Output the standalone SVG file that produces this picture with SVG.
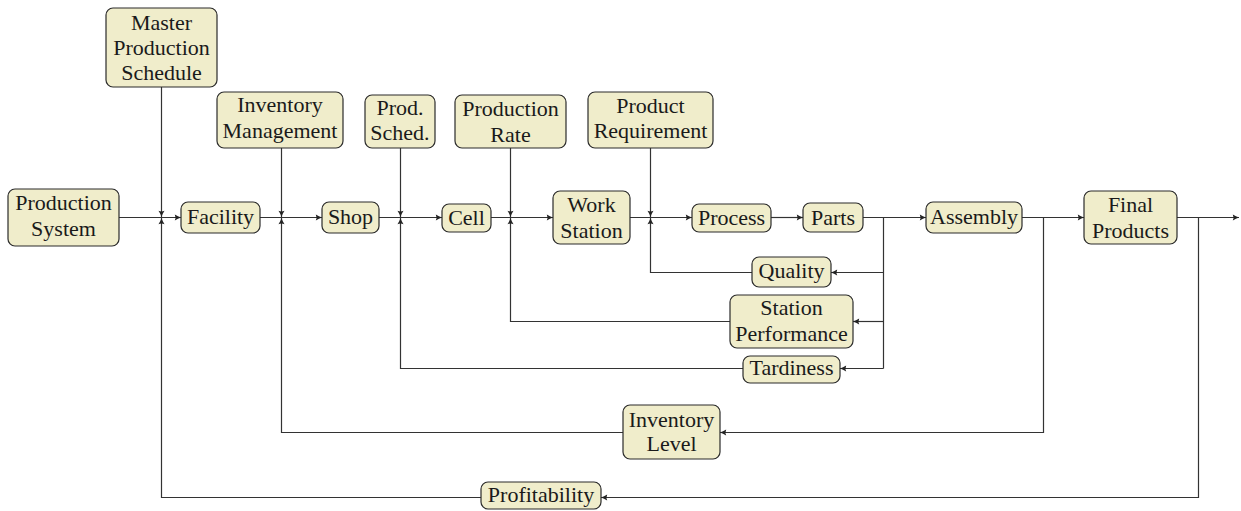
<svg xmlns="http://www.w3.org/2000/svg" width="1241" height="511" viewBox="0 0 1241 511">
  <style>
    .box { fill: #F0EDCB; stroke: #2b2b2b; stroke-width: 1.2; }
    .lbl { font-size: 22px; fill: #1a1a1a; text-anchor: middle; }
    .wire { fill: none; stroke: #333; stroke-width: 1.2; }
    .arr { marker-end: url(#tip); }
    .tx { font-family: Liberation Serif; }
  </style>
  <defs>
    <marker id="tip" markerUnits="userSpaceOnUse" markerWidth="8" markerHeight="8" viewBox="0 0 8 8" refX="7" refY="4" orient="auto">
      <path d="M0.8,1 Q4,3.1 7,4 Q4,4.9 0.8,7 Q2.2,4 0.8,1 Z" fill="#222"/>
    </marker>
  </defs>
  <rect width="1241" height="511" fill="#fff"/>

  <!-- connectors -->
  <g id="connectors">
    <!-- main flow -->
    <path class="wire arr" d="M119,217.5 H181"/>
    <path class="wire arr" d="M260,217.5 H322"/>
    <path class="wire arr" d="M379,217.5 H442"/>
    <path class="wire arr" d="M491,217.5 H553"/>
    <path class="wire arr" d="M630,217.5 H692"/>
    <path class="wire arr" d="M771,217.5 H803"/>
    <path class="wire arr" d="M863,217.5 H926"/>
    <path class="wire arr" d="M1022,217.5 H1084"/>
    <path class="wire arr" d="M1177,217.5 H1239"/>

    <!-- inputs from above -->
    <path class="wire arr" d="M161.5,87 V217"/>
    <path class="wire arr" d="M281.5,148 V217"/>
    <path class="wire arr" d="M400.5,148 V217"/>
    <path class="wire arr" d="M510.5,148 V217"/>
    <path class="wire arr" d="M650.5,148 V217"/>

    <!-- feedback from parts -->
    <path class="wire" d="M863,217.5 H883.5 V368.5"/>
    <path class="wire arr" d="M883.5,272.5 H831"/>
    <path class="wire arr" d="M883.5,321.5 H853"/>
    <path class="wire arr" d="M883.5,368.5 H840"/>
    <path class="wire arr" d="M752,272.5 H650.5 V218"/>
    <path class="wire arr" d="M730,321.5 H510.5 V218"/>
    <path class="wire arr" d="M743,368.5 H400.5 V218"/>

    <!-- feedback from assembly -->
    <path class="wire arr" d="M1043.5,217.5 V432.5 H720"/>
    <path class="wire arr" d="M623,432.5 H281.5 V218"/>

    <!-- feedback from final products -->
    <path class="wire arr" d="M1198.5,217.5 V497.5 H601"/>
    <path class="wire arr" d="M481,497.5 H161.5 V218"/>
  </g>

  <!-- nodes -->
  <g id="production-system" font-family="Liberation Serif">
    <rect class="box" x="8" y="189" width="111" height="57" rx="7"/>
    <text class="lbl tx" x="63.5" y="210">Production</text>
    <text class="lbl tx" x="63.5" y="236">System</text>
  </g>
  <g id="master-production-schedule" font-family="Liberation Serif">
    <rect class="box" x="106" y="8" width="111" height="79" rx="7"/>
    <text class="lbl tx" x="161.5" y="29.5">Master</text>
    <text class="lbl tx" x="161.5" y="54.5">Production</text>
    <text class="lbl tx" x="161.5" y="80">Schedule</text>
  </g>
  <g id="facility" font-family="Liberation Serif">
    <rect class="box" x="181" y="202" width="79" height="31" rx="7"/>
    <text class="lbl tx" x="220.5" y="224">Facility</text>
  </g>
  <g id="inventory-management" font-family="Liberation Serif">
    <rect class="box" x="217" y="92" width="126" height="56" rx="7"/>
    <text class="lbl tx" x="280" y="112">Inventory</text>
    <text class="lbl tx" x="280" y="137.5">Management</text>
  </g>
  <g id="shop" font-family="Liberation Serif">
    <rect class="box" x="322" y="202" width="57" height="31" rx="7"/>
    <text class="lbl tx" x="350.5" y="224">Shop</text>
  </g>
  <g id="prod-sched" font-family="Liberation Serif">
    <rect class="box" x="365" y="95" width="70" height="53" rx="7"/>
    <text class="lbl tx" x="400" y="115">Prod.</text>
    <text class="lbl tx" x="400" y="140">Sched.</text>
  </g>
  <g id="cell" font-family="Liberation Serif">
    <rect class="box" x="442" y="204" width="49" height="28" rx="7"/>
    <text class="lbl tx" x="466.5" y="224.5">Cell</text>
  </g>
  <g id="production-rate" font-family="Liberation Serif">
    <rect class="box" x="455" y="95" width="111" height="53" rx="7"/>
    <text class="lbl tx" x="510.5" y="116">Production</text>
    <text class="lbl tx" x="510.5" y="141.5">Rate</text>
  </g>
  <g id="work-station" font-family="Liberation Serif">
    <rect class="box" x="553" y="191" width="77" height="53" rx="7"/>
    <text class="lbl tx" x="591.5" y="212">Work</text>
    <text class="lbl tx" x="591.5" y="237.5">Station</text>
  </g>
  <g id="product-requirement" font-family="Liberation Serif">
    <rect class="box" x="588" y="92" width="125" height="56" rx="7"/>
    <text class="lbl tx" x="650.5" y="112.5">Product</text>
    <text class="lbl tx" x="650.5" y="138">Requirement</text>
  </g>
  <g id="process" font-family="Liberation Serif">
    <rect class="box" x="692" y="204" width="79" height="28" rx="7"/>
    <text class="lbl tx" x="731.5" y="224.5">Process</text>
  </g>
  <g id="parts" font-family="Liberation Serif">
    <rect class="box" x="803" y="203" width="60" height="29" rx="7"/>
    <text class="lbl tx" x="833" y="224.5">Parts</text>
  </g>
  <g id="assembly" font-family="Liberation Serif">
    <rect class="box" x="926" y="202" width="96" height="31" rx="7"/>
    <text class="lbl tx" x="974" y="224">Assembly</text>
  </g>
  <g id="final-products" font-family="Liberation Serif">
    <rect class="box" x="1084" y="191" width="93" height="53" rx="7"/>
    <text class="lbl tx" x="1130.5" y="212">Final</text>
    <text class="lbl tx" x="1130.5" y="238">Products</text>
  </g>
  <g id="quality" font-family="Liberation Serif">
    <rect class="box" x="752" y="257" width="79" height="30" rx="7"/>
    <text class="lbl tx" x="791.5" y="277.5">Quality</text>
  </g>
  <g id="station-performance" font-family="Liberation Serif">
    <rect class="box" x="730" y="295" width="123" height="53" rx="7"/>
    <text class="lbl tx" x="791.5" y="314.5">Station</text>
    <text class="lbl tx" x="791.5" y="340.5">Performance</text>
  </g>
  <g id="tardiness" font-family="Liberation Serif">
    <rect class="box" x="743" y="356" width="97" height="27" rx="7"/>
    <text class="lbl tx" x="791.5" y="375">Tardiness</text>
  </g>
  <g id="inventory-level" font-family="Liberation Serif">
    <rect class="box" x="623" y="405" width="97" height="54" rx="7"/>
    <text class="lbl tx" x="671.5" y="426.5">Inventory</text>
    <text class="lbl tx" x="671.5" y="451">Level</text>
  </g>
  <g id="profitability" font-family="Liberation Serif">
    <rect class="box" x="481" y="482" width="120" height="27" rx="7"/>
    <text class="lbl tx" x="541" y="501.5">Profitability</text>
  </g>
</svg>
